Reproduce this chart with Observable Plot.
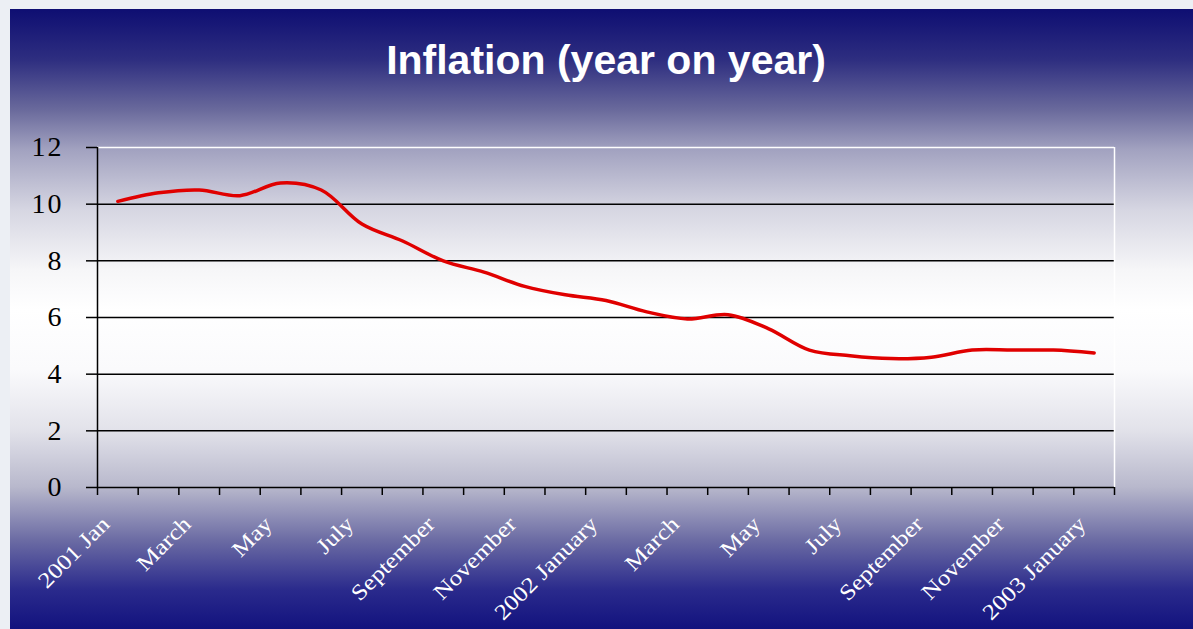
<!DOCTYPE html>
<html>
<head>
<meta charset="utf-8">
<script src="https://cdn.jsdelivr.net/npm/d3@7"></script>
<script src="https://cdn.jsdelivr.net/npm/@observablehq/plot@0.6"></script>
<style>
  body { margin: 0; background: #eceff4; width: 1193px; height: 629px; overflow: hidden; position: relative; }
  #frame {
    position: absolute; left: 10px; top: 9px; width: 1183px; height: 620px;
    background: linear-gradient(to bottom,
      #0e0e72 0%, #2e2e80 8.2%, #6a6a9c 16.3%, #a2a2c0 22.7%, #d6d6e2 32.4%,
      #f6f6f8 42.1%, #ffffff 48.5%, #fafafc 58.2%, #e2e2ea 67.9%, #b8b8cc 77.1%,
      #6c6ca4 85.6%, #2a2a8c 93.7%, #12127e 100%);
  }
  #chart { position: absolute; left: 0; top: 0; }
</style>
</head>
<body>
<div id="frame"></div>
<div id="chart"></div>
<script>
// Monthly year-on-year inflation, January 2001 to January 2003 (%)
const months = [
  "2001-01", "2001-02", "2001-03", "2001-04", "2001-05", "2001-06", "2001-07",
  "2001-08", "2001-09", "2001-10", "2001-11", "2001-12", "2002-01", "2002-02",
  "2002-03", "2002-04", "2002-05", "2002-06", "2002-07", "2002-08", "2002-09",
  "2002-10", "2002-11", "2002-12", "2003-01"
];
const inflation = [
  10.1, 10.4, 10.5, 10.3, 10.75, 10.5, 9.3, 8.7, 8.0, 7.6, 7.1, 6.8, 6.6,
  6.2, 5.95, 6.1, 5.6, 4.85, 4.65, 4.55, 4.6, 4.85, 4.85, 4.85, 4.75
];
// Category labels, shown on every other month
const monthLabels = [
  "2001 Jan", "March", "May", "July", "September", "November", "2002 January",
  "March", "May", "July", "September", "November", "2003 January"
];
const yTicks = [0, 2, 4, 6, 8, 10, 12];
const gridValues = [2, 4, 6, 8, 10];
const chartTitle = "Inflation (year on year)";

const data = months.map((m, i) => ({month: m, index: i, value: inflation[i]}));
const labelRows = monthLabels.map((label, k) => ({label, index: k * 2}));
const boundaries = d3.range(months.length + 1).map(i => i - 0.5);

const serif = "'Liberation Serif', 'Times New Roman', serif";

const plot = Plot.plot({
  width: 1193,
  height: 629,
  marginLeft: 97,
  marginRight: 79,
  marginTop: 147,
  marginBottom: 142,
  style: {background: "transparent", overflow: "visible"},
  x: {type: "linear", domain: [-0.5, months.length - 0.5], axis: null},
  y: {domain: [0, 12], axis: null},
  marks: [
    Plot.ruleY(gridValues, {stroke: "#000", strokeWidth: 1.5}),
    Plot.ruleY([12], {stroke: "#fff", strokeWidth: 1.5}),
    Plot.ruleX([months.length - 0.5], {y1: 0, y2: 12, stroke: "#fff", strokeWidth: 1.5}),
    Plot.line(data, {x: "index", y: "value", stroke: "#e00000", strokeWidth: 3.5, curve: "catmull-rom"}),
    Plot.axisY({
      ticks: yTicks, tickSize: 11, tickPadding: 23, stroke: "#000", strokeWidth: 1.5,
      fontSize: 28, fontFamily: serif, fill: "#000", label: null,
      ariaDescription: "value-labels"
    }),
    Plot.axisX({
      ticks: boundaries, tickSize: 8, tickFormat: () => "", stroke: "#000", strokeWidth: 1.5, label: null
    }),
    Plot.ruleX([-0.5], {y1: 0, y2: 12, stroke: "#000", strokeWidth: 1.5}),
    Plot.ruleY([0], {stroke: "#000", strokeWidth: 1.5}),
    Plot.text(labelRows, {
      x: "index", y: () => 0, text: "label", rotate: -45, textAnchor: "end",
      dx: -12, dy: 33, fill: "#fff", fontSize: 22, fontFamily: serif,
      ariaDescription: "month-labels"
    }),
    Plot.text([chartTitle], {
      frameAnchor: "top", lineAnchor: "bottom", dy: -74, fill: "#fff",
      fontSize: 41, fontWeight: "bold", fontFamily: "'Liberation Sans', Arial, sans-serif"
    })
  ]
});

// Stretch the rotated category labels along their baseline
d3.select(plot).selectAll('g[aria-description="month-labels"] text')
  .each(function() { this.setAttribute("transform", this.getAttribute("transform") + " scale(1.15,1)"); });
d3.select(plot).selectAll('g[aria-description="value-labels"] text').style("letter-spacing", "2px");

document.getElementById("chart").appendChild(plot);
</script>
</body>
</html>
